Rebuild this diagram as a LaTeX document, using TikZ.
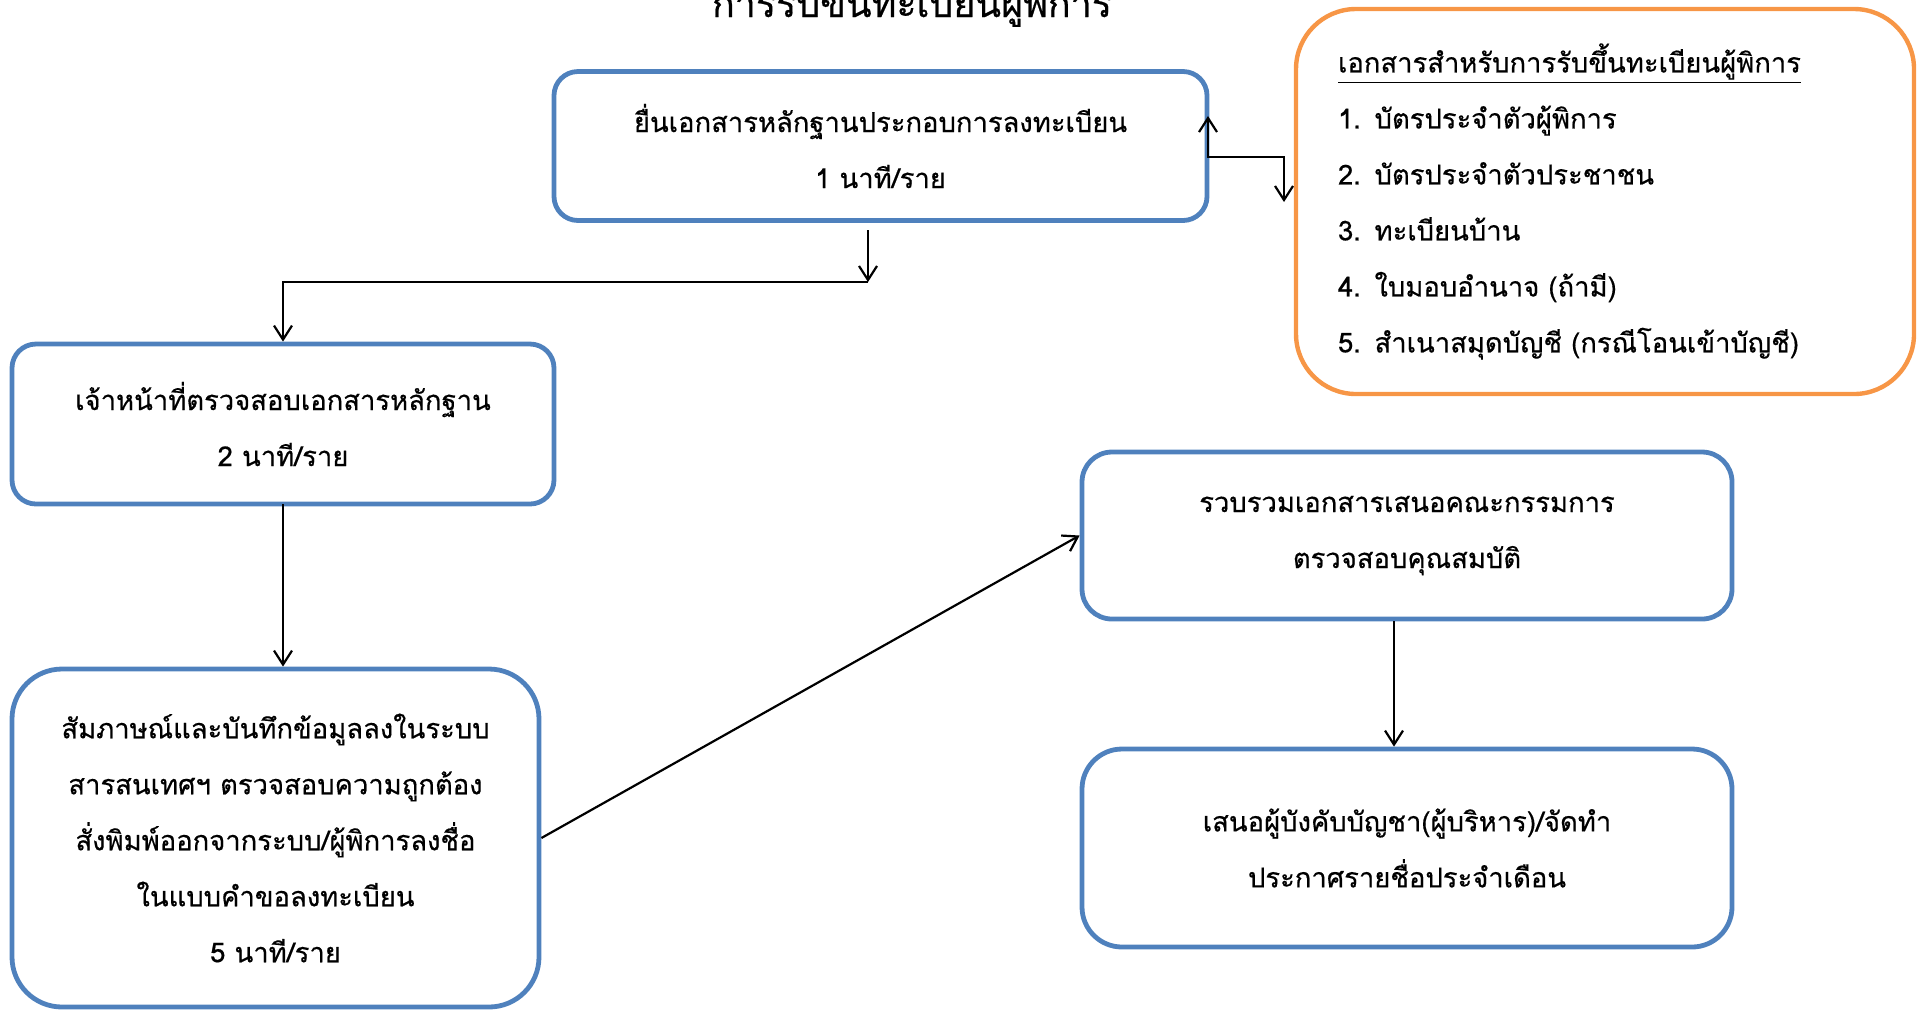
\documentclass[tikz,border=0pt]{standalone}
\usepackage{fontspec}
\setmainfont[Script=Thai, FakeBold=0.5]{Loma}
\usetikzlibrary{arrows.meta}

\definecolor{boxBlue}{HTML}{4F81BD}
\definecolor{boxOrange}{HTML}{F79646}

\begin{document}
\begin{tikzpicture}[x=0.5pt, y=-0.5pt,
    boxStyle/.style={draw=boxBlue, line width=2.4pt, rounded corners=12pt, align=center, font=\fontsize{13.7}{28}\selectfont},
    docStyle/.style={draw=boxOrange, line width=2.2pt, rounded corners=30pt, align=left, inner xsep=21pt, font=\fontsize{13.7}{28}\selectfont},
    arrowStyle/.style={line width=1.1pt, -{Straight Barb[length=7pt, width=9pt]}},
    twoWayStyle/.style={line width=1.1pt, {Straight Barb[length=7pt, width=9pt]}-{Straight Barb[length=7pt, width=9pt]}}]
    \useasboundingbox (0,0) rectangle (1921,1009);

    \node[font=\fontsize{18.8}{19}\selectfont, anchor=base](title) at (912, 17) {การรับขึ้นทะเบียนผู้พิการ};

    \node[boxStyle, minimum width=326.5pt, minimum height=74.5pt](submit) at (880.5, 146) {ยื่นเอกสารหลักฐานประกอบการลงทะเบียน\\1 นาที/ราย};
    \node[boxStyle, minimum width=271pt, minimum height=80pt](check) at (283, 424) {เจ้าหน้าที่ตรวจสอบเอกสารหลักฐาน\\2 นาที/ราย};
    \node[boxStyle, rounded corners=25pt, minimum width=263.5pt, minimum height=169pt](interview) at (275.5, 838) {สัมภาษณ์และบันทึกข้อมูลลงในระบบ\\สารสนเทศฯ ตรวจสอบความถูกต้อง\\สั่งพิมพ์ออกจากระบบ/ผู้พิการลงชื่อ\\ในแบบคำขอลงทะเบียน\\5 นาที/ราย};
    \node[boxStyle, rounded corners=15pt, minimum width=325pt, minimum height=83.5pt](collect) at (1407, 535.5) {รวบรวมเอกสารเสนอคณะกรรมการ\\ตรวจสอบคุณสมบัติ};
    \node[boxStyle, rounded corners=20pt, minimum width=325pt, minimum height=99pt](announce) at (1407, 848) {เสนอผู้บังคับบัญชา(ผู้บริหาร)/จัดทำ\\ประกาศรายชื่อประจำเดือน};
    \node[docStyle, text width=267pt, minimum height=192.5pt](docs) at (1605, 201.5) {\underline{เอกสารสำหรับการรับขึ้นทะเบียนผู้พิการ}\\1. บัตรประจำตัวผู้พิการ\\2. บัตรประจำตัวประชาชน\\3. ทะเบียนบ้าน\\4. ใบมอบอำนาจ (ถ้ามี)\\5. สำเนาสมุดบัญชี (กรณีโอนเข้าบัญชี)};

    \coordinate (upEnd) at (1208, 116);
    \coordinate (hook) at (1284, 157);
    \coordinate (downEnd) at (1284, 202);
    \coordinate (out1) at (868, 230);
    \coordinate (split) at (868, 282);

    \draw[twoWayStyle] (upEnd) |- (hook) -- (downEnd);
    \draw[arrowStyle] (out1) -- (split);
    \draw[arrowStyle] (split) -| (check.north);
    \draw[arrowStyle] (check) ++(0,80) -- (check |- interview.north);
    \draw[arrowStyle] (interview.east) -- (collect.west);
    \draw[arrowStyle] ([xshift=-6.5pt]collect.south) -- ([xshift=-6.5pt]announce.north);
\end{tikzpicture}
\end{document}
